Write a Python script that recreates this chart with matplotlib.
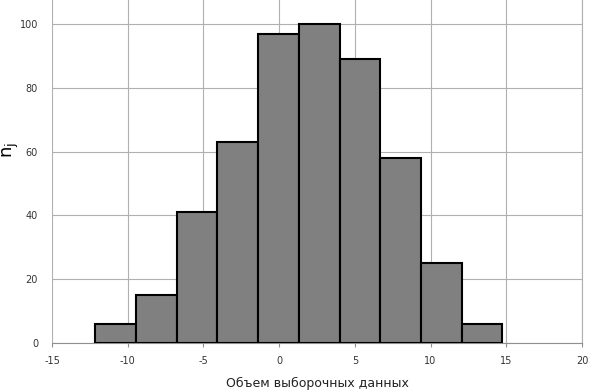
import numpy as np
import matplotlib
matplotlib.use("Agg")
import matplotlib.pyplot as plt

# данные гистограммы
edges = [-12.15, -9.46, -6.77, -4.08, -1.39, 1.30, 3.99, 6.68, 9.37, 12.06, 14.75]
counts = [6, 15, 41, 63, 97, 100, 89, 58, 25, 6]
xticks = [-15, -10, -5, 0, 5, 10, 15, 20]
yticks = [0, 20, 40, 60, 80, 100]

plt.rcParams.update({"font.family": "DejaVu Sans", "axes.unicode_minus": False})

fig = plt.figure(figsize=(5.89, 3.90), dpi=100)
ax = fig.add_axes([52 / 589, 47 / 390, 530 / 589, 343 / 390])

left = np.array(edges[:-1])
widths = np.diff(edges)
ax.bar(left, counts, width=widths, align="edge", color="#808080",
       edgecolor="black", linewidth=1.5, zorder=3)

ax.set_xlim(-15, 20)
ax.set_ylim(0, 107.5)
ax.set_xticks(xticks)
ax.set_yticks(yticks)
ax.grid(True, color="#b0b0b0", lw=0.8, zorder=0)

for s in ["top", "left"]:
    ax.spines[s].set_visible(False)
ax.spines["bottom"].set_color("#909090")
ax.spines["right"].set_color("#b0b0b0")
ax.tick_params(axis="x", direction="out", length=3, color="#909090",
               labelsize=7, labelcolor="#333333", pad=6)
ax.tick_params(axis="y", length=0, labelsize=7, labelcolor="#333333", pad=10)

ax.set_xlabel("Объем выборочных данных", fontsize=9, color="#222222", labelpad=8)
fig.text(0.018, 0.615, r"$\mathregular{n_j}$", rotation=90, fontsize=13,
         ha="center", va="center")

fig.savefig("out.png", dpi=100)
